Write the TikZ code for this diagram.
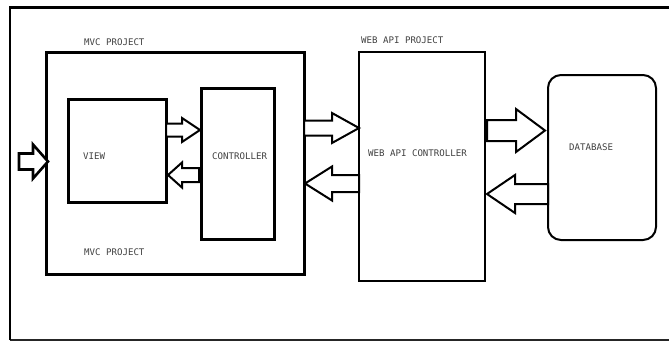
\documentclass[tikz,border=0pt]{standalone}
\usepackage{fontspec}
\setmonofont{DejaVu Sans Mono}
\begin{document}
\begin{tikzpicture}[x=1pt,y=-1pt,
  lbl/.style={font=\ttfamily\fontsize{9.1}{10}\selectfont, text=black!75, inner sep=0pt, anchor=west},
  boxA/.style={draw=black, line width=3pt},
  boxB/.style={draw=black, line width=2pt},
  arr/.style={draw=black, fill=white, line width=2pt, line join=miter}]
\useasboundingbox (0,0) rectangle (669,341);
% outer frame
\coordinate (fTL) at (10,7);
\coordinate (fTR) at (669,7);
\coordinate (fBL) at (10,340);
\coordinate (fBR) at (669,340);
\draw[line width=1.5pt, black!85] (fBL) -- (fBR);
\draw[line width=1.8pt] (fBL) -- (fTL);
\draw[line width=3pt] ([xshift=-1pt]fTL) -- (fTR);
% boxes
\draw[boxA] (46,52) rectangle (304,274);
\draw[boxA] (68,99) rectangle (166,202);
\draw[boxA] (201,88) rectangle (274,239);
\draw[boxB] (359,52) rectangle (485,281);
\draw[boxB, rounded corners=13pt] (548,75) rectangle (656,240);
% labels
\node[lbl] (mvct) at (84,42) {MVC PROJECT};
\node[lbl] (mvcb) at (84,252) {MVC PROJECT};
\node[lbl] (view) at (83,156) {VIEW};
\node[lbl] (ctrl) at (212,156) {CONTROLLER};
\node[lbl] (webp) at (361,40) {WEB API PROJECT};
\node[lbl] (webc) at (368,153) {WEB API CONTROLLER};
\node[lbl] (db) at (569,147) {DATABASE};
% block arrows: tail x, head base x, tip x, tip y, shaft half, head half
\newcommand\blockarrow[7][]{%
  \draw[arr,#1] (#2,#5-#6) -- (#3,#5-#6) -- (#3,#5-#7) -- (#4,#5) -- (#3,#5+#7) -- (#3,#5+#6) -- (#2,#5+#6) -- cycle;}
\blockarrow[line width=2.6pt]{19}{33}{48}{161.5}{8}{17}
\blockarrow{166}{182}{200}{130}{6.5}{12}
\blockarrow{199}{182}{168}{175}{7}{12.5}
\blockarrow{304}{332}{359}{128}{7.5}{15}
\blockarrow{359}{332}{305}{183.5}{8.5}{17}
\blockarrow{487}{516}{545}{130.5}{10.5}{21.5}
\blockarrow{548}{515}{487}{194}{10}{19}
\end{tikzpicture}
\end{document}
